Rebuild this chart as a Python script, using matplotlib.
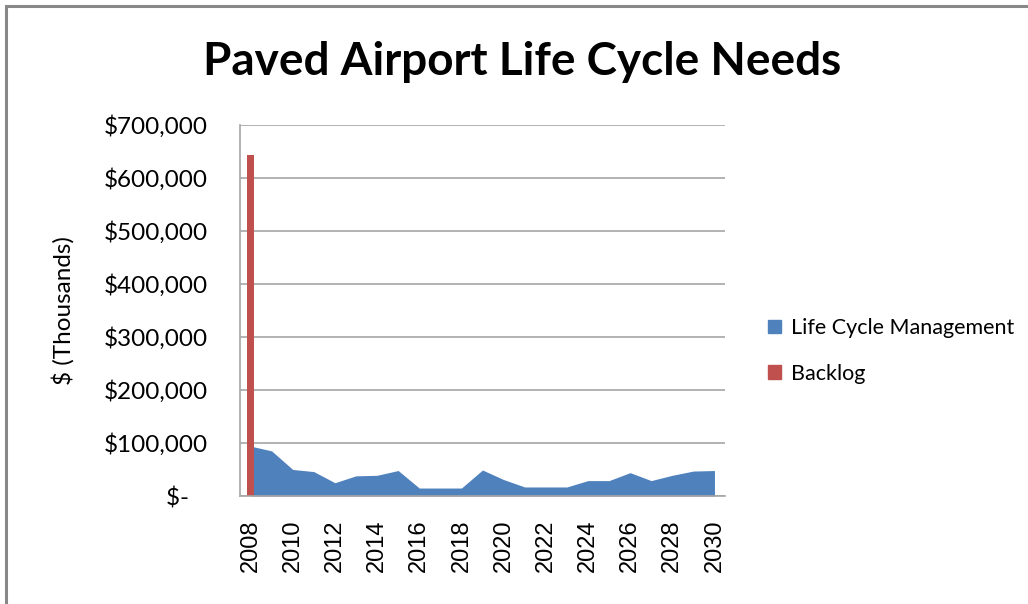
import numpy as np
import matplotlib.pyplot as plt
from matplotlib.patches import Patch, Rectangle

years = list(range(2008, 2031))
life_cycle = [94000, 85000, 50000, 46000, 25000, 38000, 39000, 48000, 15000, 15000,
              15000, 49000, 31000, 17000, 17000, 17000, 29000, 29000, 44000, 29000,
              39000, 47000, 48000]
backlog_year = 2008
backlog = 643000

blue = '#4F81BD'
red = '#C0504D'
grid_col = '#A6A6A6'

fig = plt.figure(figsize=(10.28, 6.04), dpi=100)
ax = fig.add_axes([240/1028, 1-496/604, 485/1028, 371.5/604])

x = np.arange(len(years))
ax.fill_between(x, life_cycle, 0, color=blue, lw=0, zorder=2)
ax.bar(years.index(backlog_year), backlog, width=0.36, color=red, zorder=3)

ax.set_xlim(-0.5, len(years) - 0.5)
ax.set_ylim(0, 700000)
ax.set_yticks(np.arange(0, 700001, 100000))
ylabels = ['$-   '] + ['${:,.0f}'.format(v) for v in np.arange(100000, 700001, 100000)]
ax.set_yticklabels(ylabels, fontfamily='Lato', fontsize=17.5)
ax.set_xticks(x[::2])
ax.set_xticklabels([str(y) for y in years[::2]], rotation=90,
                   fontfamily='Liberation Sans', fontsize=17)
ax.tick_params(axis='both', length=0)
ax.tick_params(axis='y', pad=23)
ax.tick_params(axis='x', pad=17)

ax.grid(axis='y', color=grid_col, lw=1.2, zorder=1)
for s in ['top', 'right']:
    ax.spines[s].set_visible(False)
for s in ['left', 'bottom']:
    ax.spines[s].set_color(grid_col)
    ax.spines[s].set_linewidth(1.2)
    ax.spines[s].set_zorder(4)

ax.set_ylabel('$ (Thousands)', fontfamily='Lato', fontsize=17.5, labelpad=21)

fig.text(522/1028, 1-62/604, 'Paved Airport Life Cycle Needs', ha='center', va='center',
         fontfamily='Lato', fontweight='bold', fontsize=33)

handles = [Patch(color=blue, label='Life Cycle Management'),
           Patch(color=red, label='Backlog')]
fig.legend(handles=handles, loc='center left', bbox_to_anchor=(749/1028, 1-351/604),
           frameon=False, prop={'family': 'Lato', 'size': 15.5},
           handlelength=0.6, handleheight=0.6, handletextpad=0.45, labelspacing=1.2)

fig.patches.append(Rectangle((6/1028, -0.1), 1.2, 1 - 6/604 + 0.1, transform=fig.transFigure,
                             fill=False, edgecolor='#888888', lw=2.2))

fig.savefig('out.png', dpi=100)
